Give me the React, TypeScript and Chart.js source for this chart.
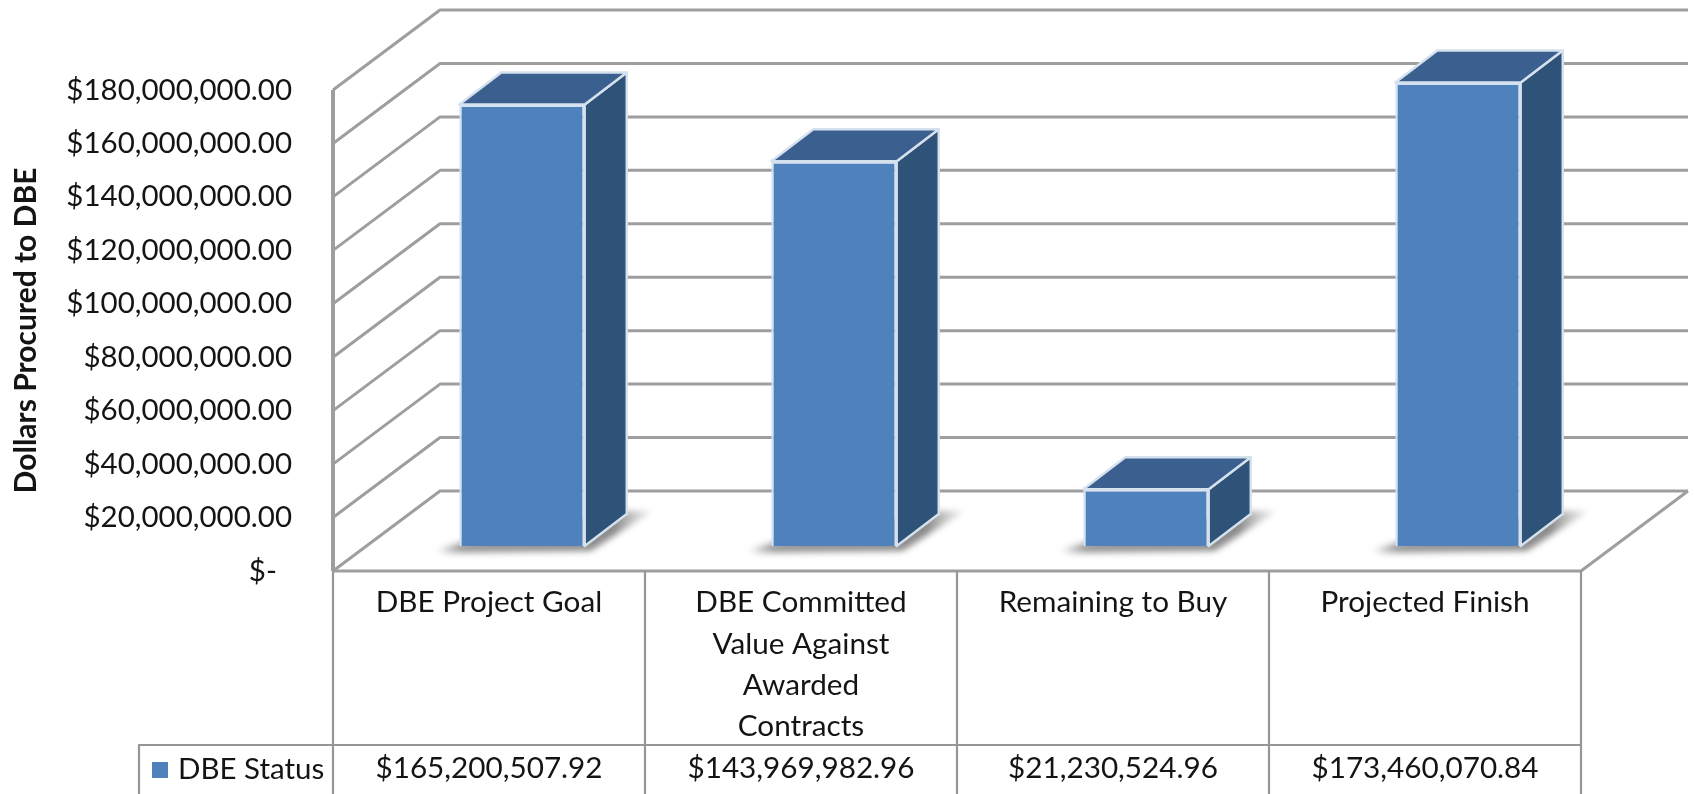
import React, { useEffect, useRef } from "react";
import { Chart, registerables } from "chart.js";

Chart.register(...registerables);

const categoryLines: string[][] = [
  ["DBE Project Goal"],
  ["DBE Committed", "Value Against", "Awarded", "Contracts"],
  ["Remaining to Buy"],
  ["Projected Finish"],
];
const categoryNames = categoryLines.map((l) => l.join(" "));
const seriesName = "DBE Status";
const dbeStatus = [165200507.92, 143969982.96, 21230524.96, 173460070.84];
const axisTitle = "Dollars Procured to DBE";

const FONT = "Lato, 'Noto Sans', sans-serif";
const TEXT = "#141414";
const usd = new Intl.NumberFormat("en-US", { style: "currency", currency: "USD" });

const WALL_DX = 107;
const WALL_DY = 80;
const BAR_SHIFT_X = 33;
const BAR_SHIFT_Y = 25;
const BAR_DX = 42;
const BAR_DY = 32;

const poly = (ctx: CanvasRenderingContext2D, pts: number[][]) => {
  ctx.beginPath();
  pts.forEach(([x, y], i) => (i ? ctx.lineTo(x, y) : ctx.moveTo(x, y)));
  ctx.closePath();
};

const chart3d = {
  id: "chart3d",
  beforeDatasetsDraw(chart: any) {
    const { ctx, chartArea: a, scales } = chart;
    const y = scales.y;
    const x = scales.x;
    ctx.save();
    ctx.filter = "blur(0.5px)";
    ctx.lineCap = "butt";
    ctx.lineJoin = "round";
    ctx.strokeStyle = "#9e9e9e";
    ctx.lineWidth = 3;
    y.ticks.forEach((t: any) => {
      const py = y.getPixelForValue(t.value);
      ctx.beginPath();
      ctx.moveTo(a.left, py);
      ctx.lineTo(a.left + WALL_DX, py - WALL_DY);
      ctx.lineTo(a.right + WALL_DX, py - WALL_DY);
      ctx.stroke();
    });
    // floor edges
    ctx.beginPath();
    ctx.moveTo(a.left, a.bottom);
    ctx.lineTo(a.right, a.bottom);
    ctx.lineTo(a.right + WALL_DX, a.bottom - WALL_DY);
    ctx.stroke();
    // left wall edge
    ctx.lineWidth = 4;
    ctx.beginPath();
    ctx.moveTo(a.left, a.top);
    ctx.lineTo(a.left, a.bottom);
    ctx.stroke();

    // data table
    const h = chart.height;
    const rowY = 745;
    const step = x.width / x.ticks.length;
    ctx.lineWidth = 2.2;
    ctx.strokeStyle = "#969696";
    for (let i = 0; i <= x.ticks.length; i++) {
      const px = a.left + i * step;
      ctx.beginPath();
      ctx.moveTo(px, a.bottom);
      ctx.lineTo(px, h);
      ctx.stroke();
    }
    const tableLeft = 139;
    ctx.beginPath();
    ctx.moveTo(tableLeft, h);
    ctx.lineTo(tableLeft, rowY);
    ctx.lineTo(a.right, rowY);
    ctx.stroke();
    ctx.filter = "none";

    // legend key inside the data table
    const ds = chart.data.datasets[0];
    ctx.fillStyle = ds.backgroundColor;
    ctx.fillRect(152, 762, 16, 16);
    ctx.fillStyle = TEXT;
    ctx.font = `29.5px ${FONT}`;
    ctx.textAlign = "left";
    ctx.textBaseline = "middle";
    ctx.fillText(ds.label, 178, 769);
    ctx.restore();
  },
  beforeDatasetDraw(chart: any) {
    const { ctx } = chart;
    const bars = chart.getDatasetMeta(0).data;
    ctx.save();
    ctx.translate(BAR_SHIFT_X, -BAR_SHIFT_Y);
    bars.forEach((b: any) => {
      const L = b.x - b.width / 2;
      const R = b.x + b.width / 2;
      const T = b.y;
      const B = b.base;
      // soft floor shadow
      ctx.save();
      ctx.filter = "blur(3px)";
      const g = ctx.createLinearGradient(L - 24, 0, R + BAR_DX + 26, 0);
      g.addColorStop(0, "rgba(130,130,130,0.15)");
      g.addColorStop(0.12, "rgba(110,110,110,0.7)");
      g.addColorStop(0.82, "rgba(100,100,100,0.75)");
      g.addColorStop(1, "rgba(130,130,130,0.1)");
      ctx.fillStyle = g;
      poly(ctx, [
        [L - 24, B + 4],
        [L, B - 3],
        [R + BAR_DX, B - BAR_DY - 3],
        [R + BAR_DX + 26, B - BAR_DY - 3],
        [R + 6, B + 5],
        [L - 10, B + 7],
      ]);
      ctx.fill();
      ctx.restore();
      // side
      ctx.lineJoin = "round";
      ctx.lineWidth = 2.4;
      ctx.strokeStyle = "#d6e1ee";
      ctx.fillStyle = "#2f5279";
      poly(ctx, [
        [R, T],
        [R + BAR_DX, T - BAR_DY],
        [R + BAR_DX, B - BAR_DY],
        [R, B],
      ]);
      ctx.fill();
      ctx.stroke();
      // top
      ctx.fillStyle = "#3b6090";
      poly(ctx, [
        [L, T],
        [L + BAR_DX, T - BAR_DY],
        [R + BAR_DX, T - BAR_DY],
        [R, T],
      ]);
      ctx.fill();
      ctx.stroke();
    });
  },
  afterDatasetDraw(chart: any) {
    chart.ctx.restore();
  },
};

export default function App() {
  const ref = useRef<HTMLCanvasElement>(null);
  useEffect(() => {
    if (!ref.current) return;
    const chart = new Chart(ref.current, {
      type: "bar",
      data: {
        labels: categoryNames,
        datasets: [
          {
            label: seriesName,
            data: dbeStatus,
            backgroundColor: "#4f81bd",
            borderColor: "#d3e1f0",
            borderWidth: 2.4,
            barPercentage: 0.402,
            categoryPercentage: 1,
            clip: false,
          } as any,
        ],
      },
      plugins: [chart3d as any],
      options: {
        responsive: false,
        animation: false,
        layout: { padding: { left: 0, top: 90, right: 114, bottom: 0 } },
        plugins: {
          legend: { display: false },
          tooltip: { enabled: false },
        },
        scales: {
          x: {
            grid: { display: false },
            border: { display: false },
            afterFit: (s: any) => {
              s.height = 223;
            },
            ticks: {
              autoSkip: false,
              maxRotation: 0,
              padding: 3,
              color: TEXT,
              font: { family: FONT, size: 29.7, lineHeight: 1.394 },
              callback: (_v: any, i: number) => {
                const lines = [...categoryLines[i]];
                while (lines.length < 4) lines.push("");
                return [...lines, usd.format(dbeStatus[i])];
              },
            },
          },
          y: {
            min: 0,
            max: 180000000,
            grid: { display: false },
            border: { display: false },
            afterFit: (s: any) => {
              s.width = 333;
            },
            title: {
              display: true,
              text: axisTitle,
              color: TEXT,
              font: { family: FONT, size: 30, weight: "bold" },
              padding: { top: 8, bottom: 0 },
            },
            ticks: {
              stepSize: 20000000,
              padding: 33,
              color: TEXT,
              font: { family: FONT, size: 29.5 },
              callback: (v: any) =>
                v === 0 ? "$-\u00a0\u00a0" : usd.format(v as number),
            },
          },
        },
      },
    });
    return () => chart.destroy();
  }, []);
  return (
    <div style={{ position: "fixed", left: 0, top: 0, width: 1695, height: 794, background: "#fff" }}>
      <canvas ref={ref} width={1695} height={794} style={{ display: "block" }} />
    </div>
  );
}
